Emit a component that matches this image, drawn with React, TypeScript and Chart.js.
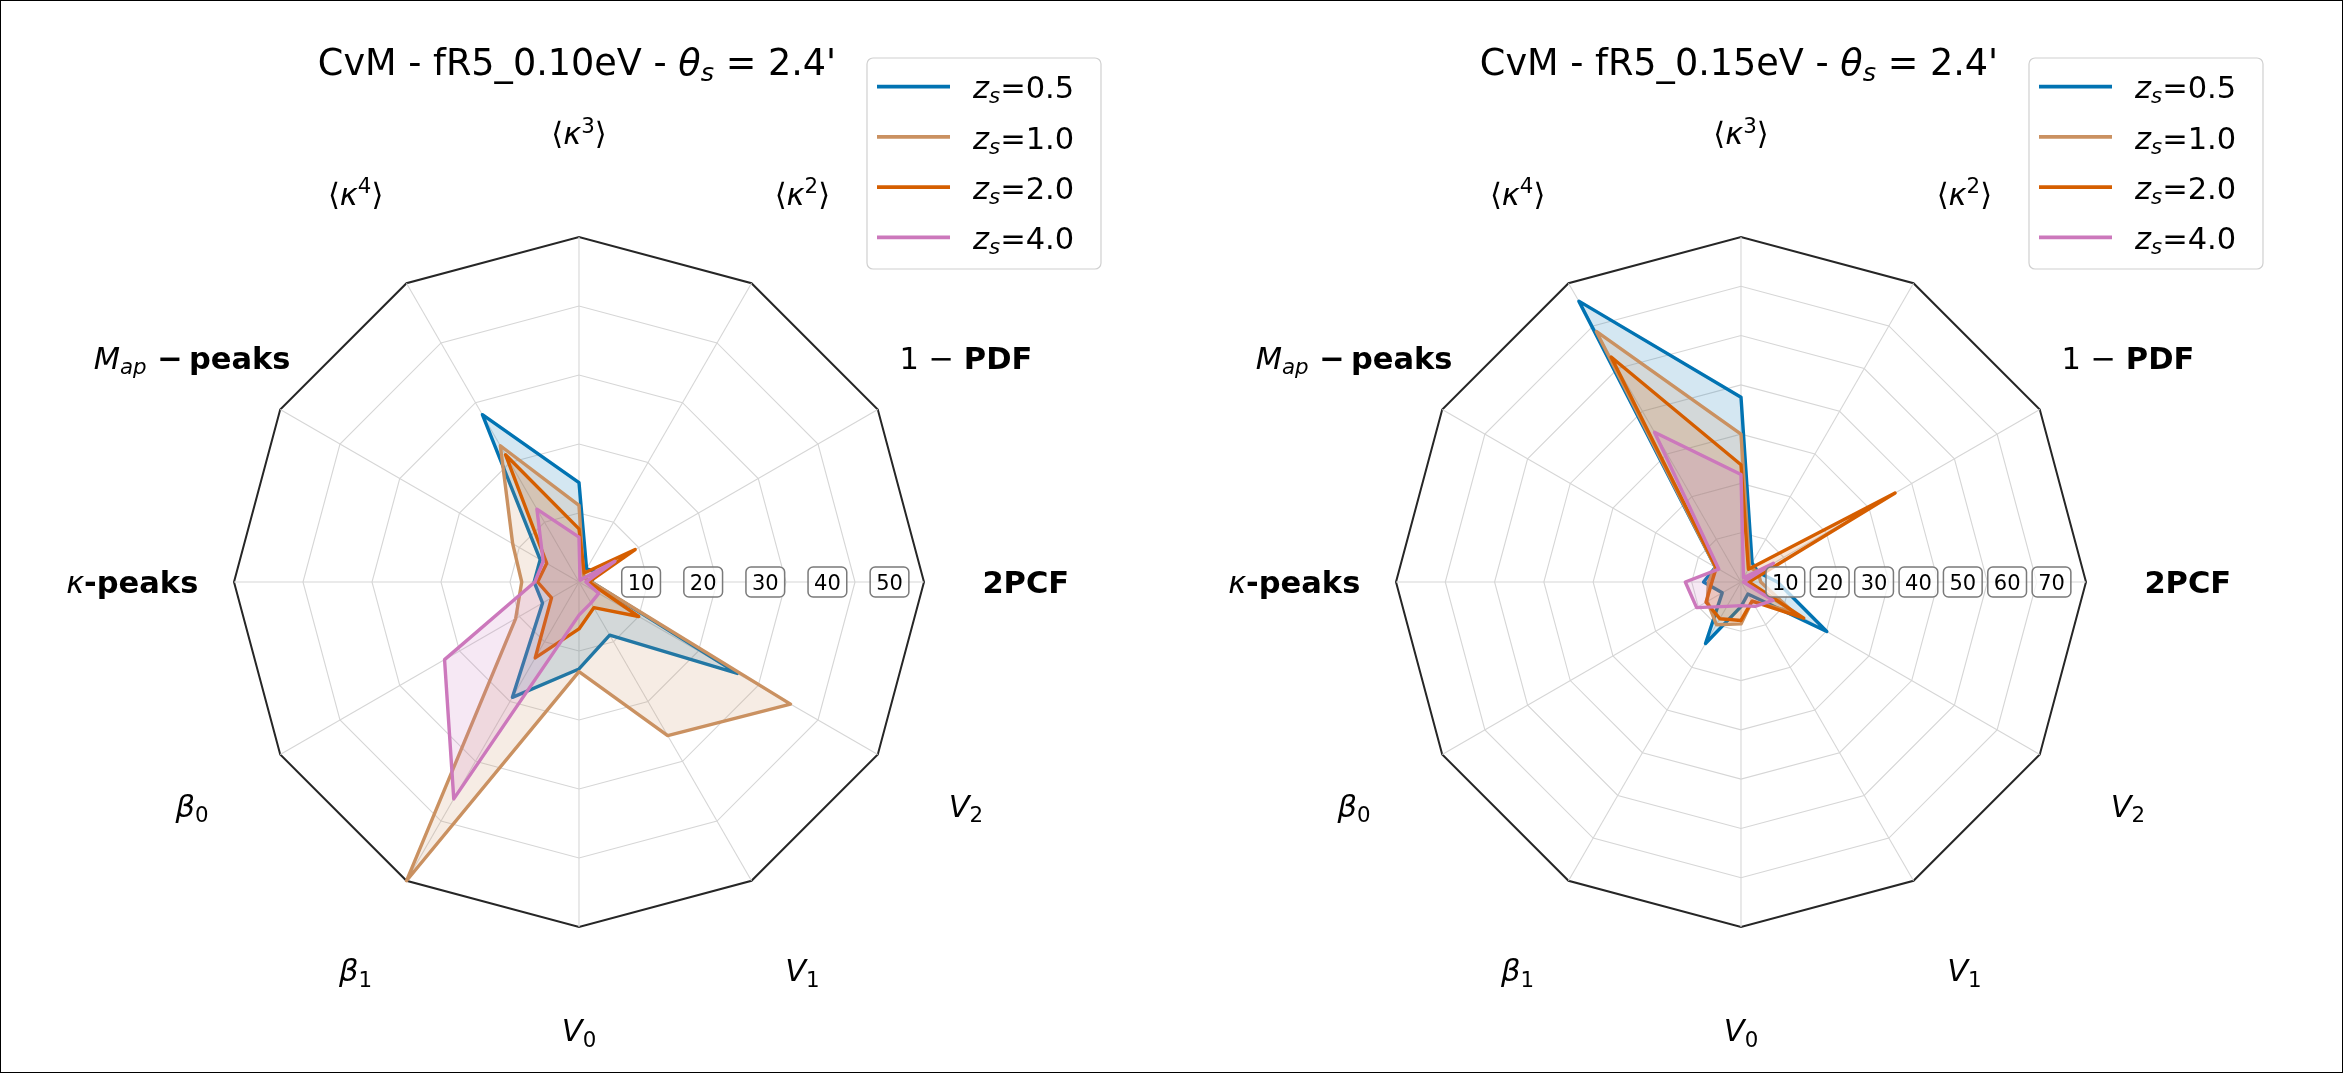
import React, { useEffect, useRef } from 'react';
import { Chart, registerables } from 'chart.js';

Chart.register(...registerables);

// Axes in drawing order: clockwise, starting from the right-hand axis (2PCF)
const AXES = ['2PCF', 'V2', 'V1', 'V0', 'β1', 'β0', 'κ-peaks', 'Map-peaks', '⟨κ4⟩', '⟨κ3⟩', '⟨κ2⟩', '1-PDF'];

const REDSHIFTS = ['0.5', '1.0', '2.0', '4.0'];
const COLORS = ['#0173B2', '#CA9161', '#D55E00', '#CC78BC'];

// Panel 1: CvM - fR5_0.10eV
const LEFT_Z05 = [1.8, 26.5, 8.9, 12.6, 19.3, 6.1, 6.5, 6.5, 28.0, 14.4, 2.2, 3.0];
const LEFT_Z10 = [1.8, 35.4, 25.7, 13.0, 50.0, 10.6, 8.3, 11.1, 22.8, 11.1, 1.3, 1.0];
const LEFT_Z20 = [1.4, 10.0, 4.3, 6.8, 12.7, 4.6, 6.0, 5.4, 21.3, 7.7, 1.5, 9.4];
const LEFT_Z40 = [1.0, 3.3, 3.5, 4.8, 36.3, 22.5, 6.4, 6.0, 12.2, 6.5, 0.3, 6.0];
const LEFT_TICKS = [10, 20, 30, 40, 50];
const LEFT_MODEL = 'fR5_0.10eV';

// Panel 2: CvM - fR5_0.15eV
const RIGHT_Z05 = [7.4, 20.1, 2.8, 5.0, 14.4, 4.4, 7.6, 6.0, 65.8, 37.5, 4.5, 4.0];
const RIGHT_Z10 = [4.0, 12.2, 4.5, 8.5, 10.0, 7.9, 6.6, 6.0, 58.7, 30.0, 3.5, 4.0];
const RIGHT_Z20 = [1.6, 14.7, 4.5, 7.8, 8.6, 8.2, 5.9, 5.8, 52.7, 23.8, 3.0, 36.1];
const RIGHT_Z40 = [0.5, 7.5, 5.7, 4.8, 5.7, 10.4, 11.3, 5.2, 35.1, 21.8, 1.0, 7.6];
const RIGHT_TICKS = [10, 20, 30, 40, 50, 60, 70];
const RIGHT_MODEL = 'fR5_0.15eV';

const THETA_S = "2.4'";

type Seg = { t: string; it?: boolean; b?: boolean; sub?: boolean; sup?: boolean };

const FONT = '"DejaVu Sans", "Liberation Sans", sans-serif';
const LABEL_SIZE = 30.5;
const TITLE_SIZE = 36.6;
const TICK_SIZE = 21;
const LEGEND_SIZE = 30.5;

const AXIS_TEXT: Seg[][] = [
  [{ t: '2PCF', b: true }],
  [{ t: 'V', it: true }, { t: '2', sub: true }],
  [{ t: 'V', it: true }, { t: '1', sub: true }],
  [{ t: 'V', it: true }, { t: '0', sub: true }],
  [{ t: 'β', it: true }, { t: '1', sub: true }],
  [{ t: 'β', it: true }, { t: '0', sub: true }],
  [{ t: 'κ', it: true }, { t: '-peaks', b: true }],
  [{ t: 'M', it: true }, { t: 'ap', it: true, sub: true }, { t: ' −\u2009', b: true }, { t: 'peaks', b: true }],
  [{ t: '⟨' }, { t: 'κ', it: true }, { t: '4', sup: true }, { t: '⟩' }],
  [{ t: '⟨' }, { t: 'κ', it: true }, { t: '3', sup: true }, { t: '⟩' }],
  [{ t: '⟨' }, { t: 'κ', it: true }, { t: '2', sup: true }, { t: '⟩' }],
  [{ t: '1 − ' }, { t: 'PDF', b: true }],
];

function segFont(s: Seg, size: number) {
  const sz = s.sub || s.sup ? size * 0.7 : size;
  return `${s.it ? 'italic ' : ''}${s.b ? 'bold ' : ''}${sz.toFixed(2)}px ${FONT}`;
}

function richWidth(ctx: CanvasRenderingContext2D, segs: Seg[], size: number) {
  let w = 0;
  for (const s of segs) {
    ctx.font = segFont(s, size);
    w += ctx.measureText(s.t).width;
  }
  return w;
}

function drawRich(ctx: CanvasRenderingContext2D, segs: Seg[], x: number, baseline: number, size: number, align: 'center' | 'left') {
  const w = richWidth(ctx, segs, size);
  let px = align === 'center' ? x - w / 2 : x;
  ctx.textAlign = 'left';
  ctx.textBaseline = 'alphabetic';
  ctx.fillStyle = '#000';
  for (const s of segs) {
    ctx.font = segFont(s, size);
    const dy = s.sub ? 0.17 * size : s.sup ? -0.38 * size : 0;
    ctx.fillText(s.t, px, baseline + dy);
    px += ctx.measureText(s.t).width;
  }
}

function roundRect(ctx: CanvasRenderingContext2D, x: number, y: number, w: number, h: number, r: number) {
  ctx.beginPath();
  ctx.moveTo(x + r, y);
  ctx.lineTo(x + w - r, y);
  ctx.arcTo(x + w, y, x + w, y + r, r);
  ctx.lineTo(x + w, y + h - r);
  ctx.arcTo(x + w, y + h, x + w - r, y + h, r);
  ctx.lineTo(x + r, y + h);
  ctx.arcTo(x, y + h, x, y + h - r, r);
  ctx.lineTo(x, y + r);
  ctx.arcTo(x, y, x + r, y, r);
  ctx.closePath();
}

function hexA(hex: string, a: number) {
  const n = parseInt(hex.slice(1), 16);
  return `rgba(${(n >> 16) & 255},${(n >> 8) & 255},${n & 255},${a})`;
}

type Panel = { model: string; ticks: number[]; series: number[][] };

function decorPlugin(panel: Panel) {
  return {
    id: 'decor',
    afterDraw(chart: any) {
      const ctx: CanvasRenderingContext2D = chart.ctx;
      const scale: any = chart.scales.r;
      const cx = scale.xCenter;
      const cy = scale.yCenter;
      const R = scale.drawingArea;
      ctx.save();

      // radial tick labels with boxes along the 2PCF axis
      ctx.font = `${TICK_SIZE}px ${FONT}`;
      for (const v of panel.ticks) {
        const r = 0.9 * scale.getDistanceFromCenterForValue(v);
        const text = String(v);
        ctx.font = `${TICK_SIZE}px ${FONT}`;
        const tw = ctx.measureText(text).width;
        const bw = tw + 12;
        const bh = 30;
        const x = cx + r;
        roundRect(ctx, x - bw / 2, cy - bh / 2, bw, bh, 5);
        ctx.fillStyle = 'rgba(255,255,255,0.72)';
        ctx.fill();
        ctx.lineWidth = 1.5;
        ctx.strokeStyle = '#7a7a7a';
        ctx.stroke();
        ctx.fillStyle = '#000';
        ctx.textAlign = 'center';
        ctx.textBaseline = 'alphabetic';
        ctx.fillText(text, x, cy + 0.36 * TICK_SIZE);
      }

      // axis labels
      for (let i = 0; i < AXIS_TEXT.length; i++) {
        const a = scale.getIndexAngle(i) - Math.PI / 2;
        const x = cx + Math.cos(a) * R * 1.295;
        const y = cy + Math.sin(a) * R * 1.3;
        drawRich(ctx, AXIS_TEXT[i], x, y + 0.36 * LABEL_SIZE, LABEL_SIZE, 'center');
      }

      // title
      const title: Seg[] = [
        { t: `CvM - ${panel.model} - ` },
        { t: 'θ', it: true },
        { t: 's', it: true, sub: true },
        { t: ` = ${THETA_S}` },
      ];
      drawRich(ctx, title, cx - 2, 75, TITLE_SIZE, 'center');

      // legend
      const bx = cx + 288;
      const by = 58;
      roundRect(ctx, bx, by, 234, 211, 6);
      ctx.fillStyle = 'rgba(255,255,255,0.85)';
      ctx.fill();
      ctx.lineWidth = 1.2;
      ctx.strokeStyle = '#d0d0d0';
      ctx.stroke();
      for (let i = 0; i < REDSHIFTS.length; i++) {
        const y = 86.7 + 50.2 * i;
        ctx.beginPath();
        ctx.moveTo(cx + 298, y);
        ctx.lineTo(cx + 371, y);
        ctx.lineWidth = 3.8;
        ctx.strokeStyle = COLORS[i];
        ctx.stroke();
        drawRich(
          ctx,
          [{ t: 'z', it: true }, { t: 's', it: true, sub: true }, { t: `=${REDSHIFTS[i]}` }],
          cx + 394,
          y + 11.6,
          LEGEND_SIZE,
          'left'
        );
      }
      ctx.restore();
    },
  };
}

function makeChart(canvas: HTMLCanvasElement, panel: Panel, padLeft: number, padRight: number) {
  const nT = panel.ticks.length;
  const max = panel.ticks[nT - 1];
  return new Chart(canvas, {
    type: 'radar',
    data: {
      labels: AXES,
      datasets: panel.series.map((vals, i) => ({
        label: `z_s=${REDSHIFTS[i]}`,
        data: vals,
        borderColor: COLORS[i],
        backgroundColor: hexA(COLORS[i], 0.17),
        borderWidth: 3.4,
        fill: true,
        pointRadius: 0,
        pointHoverRadius: 0,
        order: REDSHIFTS.length - i,
      })),
    },
    options: {
      responsive: false,
      animation: false,
      events: [],
      layout: { padding: { left: padLeft, right: padRight, top: 237, bottom: 146 } },
      plugins: {
        legend: { display: false },
        title: { display: false },
        tooltip: { enabled: false },
      },
      elements: {
        line: { tension: 0, borderJoinStyle: 'round' },
        point: { radius: 0 },
      },
      scales: {
        r: {
          min: 0,
          max,
          beginAtZero: true,
          startAngle: 90,
          ticks: { display: false, stepSize: 10 },
          pointLabels: { display: false },
          grid: {
            circular: false,
            color: (c: any) => (c.index === nT ? '#262626' : '#d6d6d6'),
            lineWidth: (c: any) => (c.index === nT ? 2 : 1.1),
          },
          angleLines: { color: '#d6d6d6', lineWidth: 1.1 },
        },
      },
    } as any,
    plugins: [decorPlugin(panel)],
  });
}

export default function App() {
  const leftRef = useRef<HTMLCanvasElement>(null);
  const rightRef = useRef<HTMLCanvasElement>(null);

  useEffect(() => {
    const left = makeChart(
      leftRef.current!,
      { model: LEFT_MODEL, ticks: LEFT_TICKS, series: [LEFT_Z05, LEFT_Z10, LEFT_Z20, LEFT_Z40] },
      234,
      247
    );
    const right = makeChart(
      rightRef.current!,
      { model: RIGHT_MODEL, ticks: RIGHT_TICKS, series: [RIGHT_Z05, RIGHT_Z10, RIGHT_Z20, RIGHT_Z40] },
      225,
      257
    );
    return () => {
      left.destroy();
      right.destroy();
    };
  }, []);

  return (
    <div
      style={{
        position: 'fixed',
        left: 0,
        top: 0,
        width: 2343,
        height: 1073,
        background: '#fff',
        overflow: 'hidden',
      }}
    >
      <canvas
        ref={leftRef}
        width={1171}
        height={1073}
        style={{ position: 'absolute', left: 0, top: 0, width: 1171, height: 1073, display: 'block' }}
      />
      <canvas
        ref={rightRef}
        width={1172}
        height={1073}
        style={{ position: 'absolute', left: 1171, top: 0, width: 1172, height: 1073, display: 'block' }}
      />
      <div
        style={{
          position: 'absolute',
          left: 0,
          top: 0,
          width: 2343,
          height: 1073,
          boxSizing: 'border-box',
          border: '1px solid #000',
          pointerEvents: 'none',
        }}
      />
    </div>
  );
}
